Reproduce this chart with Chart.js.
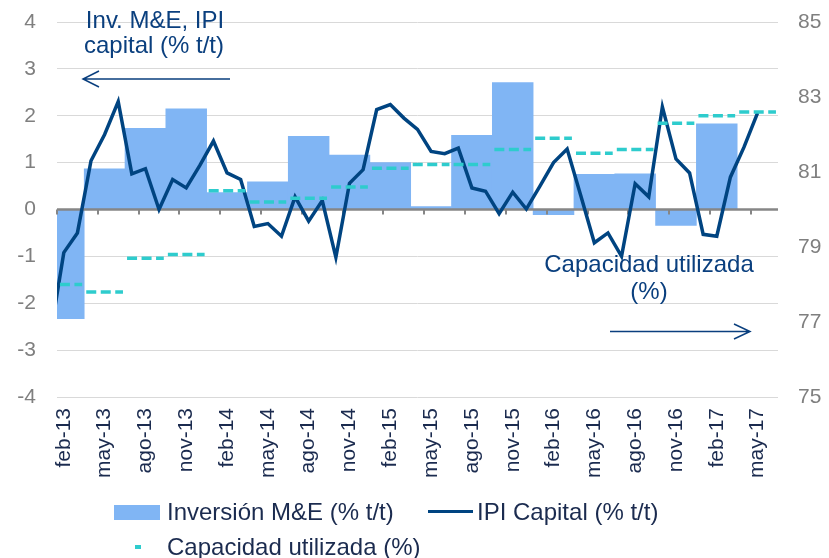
<!DOCTYPE html>
<html><head><meta charset="utf-8">
<script src="https://cdn.jsdelivr.net/npm/chart.js@4.4.1/dist/chart.umd.min.js"></script>
<style>
html,body{margin:0;padding:0;background:#fff;}
#wrap{position:relative;width:829px;height:558px;overflow:hidden;font-family:"Liberation Sans",Arial,sans-serif;}
canvas{position:absolute;left:0;top:0;}
.lg{position:absolute;font-size:24px;color:#1b2b4f;white-space:nowrap;line-height:24px;}
.sw{position:absolute;}
</style></head><body>
<div id="wrap">
<canvas id="c" width="829" height="558"></canvas>
<div class="sw" style="left:114px;top:505px;width:46px;height:15px;background:#80b5f4;"></div>
<div class="lg" style="left:167px;top:500px;">Inversión M&amp;E (% t/t)</div>
<div class="sw" style="left:428px;top:510px;width:45px;height:3px;background:#004481;"></div>
<div class="lg" style="left:477px;top:500px;">IPI Capital (% t/t)</div>
<div class="sw" style="left:135px;top:545px;width:6px;height:4px;background:#2ecccd;"></div>
<div class="lg" style="left:167px;top:535px;">Capacidad utilizada (%)</div>
</div>
<script>
// x tick labels (every 3 months, feb-13 = month 0)
const tickLabels = ['feb-13','may-13','ago-13','nov-13','feb-14','may-14','ago-14','nov-14','feb-15','may-15','ago-15','nov-15','feb-16','may-16','ago-16','nov-16','feb-17','may-17'];
const monthCount = 53;          // feb-13 .. jun-17
const ipiStartMonth = -1;       // first IPI value is jan-13 (clipped)
// IPI Capital (% t/t), monthly jan-13 .. may-17
const ipiCapital = [-2.70,
  -0.92,-0.50,1.04,1.60,2.30,0.76,0.87,0.00,0.64,0.46,0.94,
  1.46,0.78,0.64,-0.36,-0.30,-0.57,0.27,-0.25,0.19,-1.02,0.56,0.85,
  2.13,2.24,1.95,1.71,1.24,1.19,1.31,0.46,0.39,-0.09,0.37,0.01,
  0.50,1.00,1.29,0.30,-0.71,-0.50,-1.00,0.55,0.27,2.19,1.08,0.78,
  -0.53,-0.57,0.69,1.33,2.06];
// Quarterly series, Q1-13 onwards (quarter q is centred on month 3q)
const inversionME = [-2.33,0.87,1.73,2.15,0.36,0.59,1.56,1.16,1.00,0.06,1.58,2.71,-0.11,0.75,0.76,-0.34,1.83];
const capacidad = [78.0,77.8,78.7,78.8,80.5,80.2,80.3,80.6,81.1,81.2,81.2,81.6,81.9,81.5,81.6,82.3,82.5,82.6];

const FONT = '"Liberation Sans", Arial, sans-serif';
Chart.defaults.font.family = FONT;

const capSegments = [];
capacidad.forEach((v, q) => {
  capSegments.push({x: 3*q - 1.35, y: v}, {x: 3*q + 1.35, y: v}, {x: 3*q + 1.5, y: null});
});

const zeroAxis = {
  id: 'zeroAxis',
  afterDatasetDraw(chart, args) {
    if (args.index !== 0) return;
    const {ctx, chartArea: a, scales: {x, y}} = chart;
    const y0 = y.getPixelForValue(0);
    ctx.save();
    ctx.strokeStyle = '#868686';
    ctx.lineWidth = 2.5;
    ctx.beginPath(); ctx.moveTo(a.left, y0); ctx.lineTo(a.right, y0); ctx.stroke();
    ctx.lineWidth = 2;
    ctx.beginPath();
    x.ticks.forEach(t => {
      const px = Math.round(x.getPixelForValue(t.value - 0.5));
      ctx.moveTo(px, y0); ctx.lineTo(px, y0 + 5);
    });
    ctx.stroke();
    ctx.restore();
  }
};

const notes = {
  id: 'notes',
  afterDraw(chart) {
    const ctx = chart.ctx;
    ctx.save();
    ctx.fillStyle = '#0a3f7e';
    ctx.strokeStyle = '#0a3f7e';
    ctx.font = '24px ' + FONT;
    ctx.textAlign = 'center';
    ctx.textBaseline = 'middle';
    ctx.fillText('Inv. M&E, IPI', 155, 21);
    ctx.fillText('capital (% t/t)', 154, 46);
    ctx.fillText('Capacidad utilizada', 649, 265.5);
    ctx.fillText('(%)', 649, 292);
    ctx.lineWidth = 1.5;
    ctx.beginPath();
    ctx.moveTo(83, 79); ctx.lineTo(230, 79);
    ctx.moveTo(99, 71); ctx.lineTo(83, 79); ctx.lineTo(99, 87);
    ctx.moveTo(610, 331.5); ctx.lineTo(750, 331.5);
    ctx.moveTo(734, 324); ctx.lineTo(750, 331.5); ctx.lineTo(734, 339);
    ctx.stroke();
    ctx.restore();
  }
};

const fixY = w => s => { s.width = w; s.paddingTop = 0; s.paddingBottom = 0; };

new Chart(document.getElementById('c'), {
  type: 'bar',
  data: {
    datasets: [
      {type: 'bar', label: 'Inversión M&E (% t/t)',
       data: inversionME.map((v, q) => ({x: 3*q, y: v})),
       backgroundColor: '#80b5f4', borderWidth: 0, barPercentage: 1, categoryPercentage: 1,
       yAxisID: 'y', order: 2, clip: 0},
      {type: 'line', label: 'IPI Capital (% t/t)',
       data: ipiCapital.map((v, i) => ({x: ipiStartMonth + i, y: v})),
       borderColor: '#004481', borderWidth: 3.5, pointRadius: 0, tension: 0, fill: false,
       yAxisID: 'y', order: 1, clip: 0},
      {type: 'line', label: 'Capacidad utilizada (%)', data: capSegments,
       borderColor: '#2ecccd', borderWidth: 3.5, borderDash: [10, 4.5], borderCapStyle: 'butt',
       pointRadius: 0, spanGaps: false, fill: false, yAxisID: 'y1', order: 0, clip: 0}
    ]
  },
  options: {
    responsive: false, animation: false, devicePixelRatio: 1,
    layout: {autoPadding: false, padding: {top: 22, bottom: 0, left: 0, right: 0}},
    plugins: {legend: {display: false}, tooltip: {enabled: false}},
    scales: {
      x: {type: 'linear', min: -0.5, max: monthCount - 0.5, offset: false,
          grid: {display: false, drawTicks: false, offset: false}, border: {display: false},
          afterBuildTicks: s => { s.ticks = tickLabels.map((l, i) => ({value: i*3})); },
          afterFit: s => { s.height = 161; s.paddingLeft = 0; s.paddingRight = 0; },
          ticks: {autoSkip: false, minRotation: 90, maxRotation: 90, padding: 11,
                  color: '#1b2b4f', font: {size: 21},
                  callback: (v, i) => tickLabels[i]}},
      y: {position: 'left', min: -4, max: 4,
          ticks: {stepSize: 1, color: '#7f7f7f', font: {size: 21}, padding: 21},
          grid: {color: '#d9d9d9', drawTicks: false, lineWidth: 1}, border: {display: false},
          afterFit: fixY(57)},
      y1: {position: 'right', min: 75, max: 85,
          ticks: {stepSize: 2, color: '#7f7f7f', font: {size: 21}, padding: 20},
          grid: {display: false, drawTicks: false}, border: {display: false},
          afterFit: fixY(51)}
    }
  },
  plugins: [zeroAxis, notes]
});
</script>
</body></html>
